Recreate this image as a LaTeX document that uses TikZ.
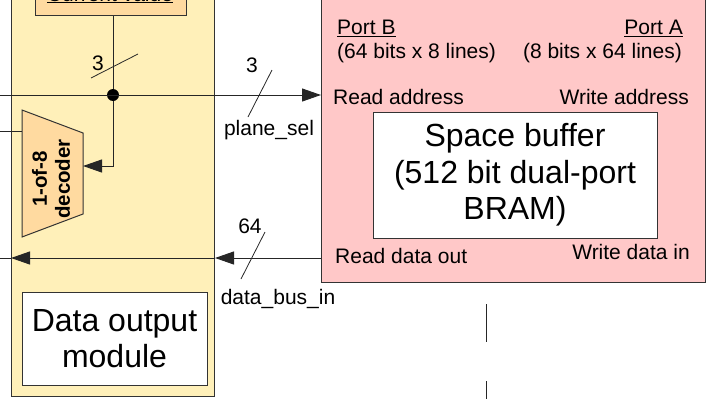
\documentclass[tikz,border=0pt]{standalone}
\usepackage{fontspec}
\setmainfont{Liberation Sans}
\usepackage{xcolor}
\usetikzlibrary{arrows.meta,positioning,calc}
\definecolor{modfill}{RGB}{255,240,185}
\definecolor{cvfill}{RGB}{255,218,160}
\definecolor{ramfill}{RGB}{255,200,200}

\begin{document}
\begin{tikzpicture}[x=1pt,y=-1pt,>={Triangle[length=19pt,width=13pt]},
  blk/.style={draw=black!80,line width=1pt,inner sep=0pt},
  wire/.style={draw=black!85,line width=1pt},
  lbl/.style={inner sep=0pt,font=\fontsize{21}{24}\selectfont},
  big/.style={align=center,font=\fontsize{32}{36.5}\selectfont}]
\useasboundingbox (0,0) rectangle (707,399);
\clip (0,0) rectangle (707,399);
% output module and its parts
\node[blk,fill=modfill,minimum width=203,minimum height=427,anchor=south west] (mod) at (11,397) {};
\node[blk,fill=cvfill,minimum width=151,minimum height=40,anchor=south west] (cv) at (35,16) {};
\node[lbl,anchor=base] (cvtxt) at (110,1) {\underline{Current value}};
\coordinate (d1) at (22,110); \coordinate (d2) at (83,133);
\coordinate (d3) at (83,214); \coordinate (d4) at (22,237);
\draw[blk,fill=cvfill] (d1) -- (d2) -- (d3) -- (d4) -- cycle;
\node[rotate=90,align=center,inner sep=0pt,font=\bfseries\fontsize{20.5}{23}\selectfont] (dec) at (51,179) {1-of-8\\decoder};
\node[blk,big,fill=white,minimum width=185,minimum height=93] (dout) at (114.5,338.5) {Data output\\module};
% space buffer
\node[blk,fill=ramfill,minimum width=384,minimum height=313,anchor=south west] (ram) at (321,283) {};
\node[blk,big,fill=white,minimum width=284,minimum height=126] (buf) at (515,175) {Space buffer\\(512 bit dual-port\\BRAM)};
\node[lbl,anchor=base west] (pb) at (337,34.5) {\underline{Port B}};
\node[lbl,anchor=base west] (pbw) at (337,58) {(64 bits x 8 lines)};
\node[lbl,anchor=base east] (pa) at (683,34.5) {\underline{Port A}};
\node[lbl,anchor=base east] (paw) at (682,58) {(8 bits x 64 lines)};
\node[lbl,anchor=base west] (rda) at (333,104) {Read address};
\node[lbl,anchor=base east] (wra) at (689,104) {Write address};
\node[lbl,anchor=base west] (rdo) at (335,263) {Read data out};
\node[lbl,anchor=base east] (wdi) at (690,259) {Write data in};
% wires
\node[circle,fill=black,minimum size=12,inner sep=0pt] (jn) at (113,95) {};
\coordinate (inA) at (0,95);
\coordinate (inB) at (0,131);
\coordinate (decin) at (83,166);
\coordinate (outL) at (0,258);
\draw[wire,->] (inA) -- (inA -| ram.west);
\draw[wire] (cv.south -| jn) -- (jn);
\draw[wire,->] (jn) |- (decin);
\draw[wire] (inB) -- (inB -| d1);
\draw[wire,->] (outL -| ram.west) -- (outL -| mod.east);
\draw[wire,->] (outL -| mod.east) -- (outL -| mod.west);
\draw[wire] (outL -| mod.west) -- (outL);
\coordinate (v1) at (486,304); \coordinate (v2) at (486,342);
\coordinate (v3) at (486,381); \coordinate (v4) at (486,399);
\draw[wire] (v1) -- (v2);
\draw[wire] (v3) -- (v4);
% bus widths
\foreach \a/\b in {248/117,241/279}{
  \draw[wire,line width=0.8pt] (\a,\b) -- ++(24,-47);}
\draw[wire,line width=0.8pt] (91,78) -- (138,54);
\node[lbl,anchor=base] (w1) at (98,70) {3};
\node[lbl,anchor=base] (w2) at (252,72) {3};
\node[lbl,anchor=base] (psel) at (269,135) {plane\_sel};
\node[lbl,anchor=base] (w3) at (250,233) {64};
\node[lbl,anchor=base] (dbin) at (278,304) {data\_bus\_in};
\end{tikzpicture}
\end{document}
